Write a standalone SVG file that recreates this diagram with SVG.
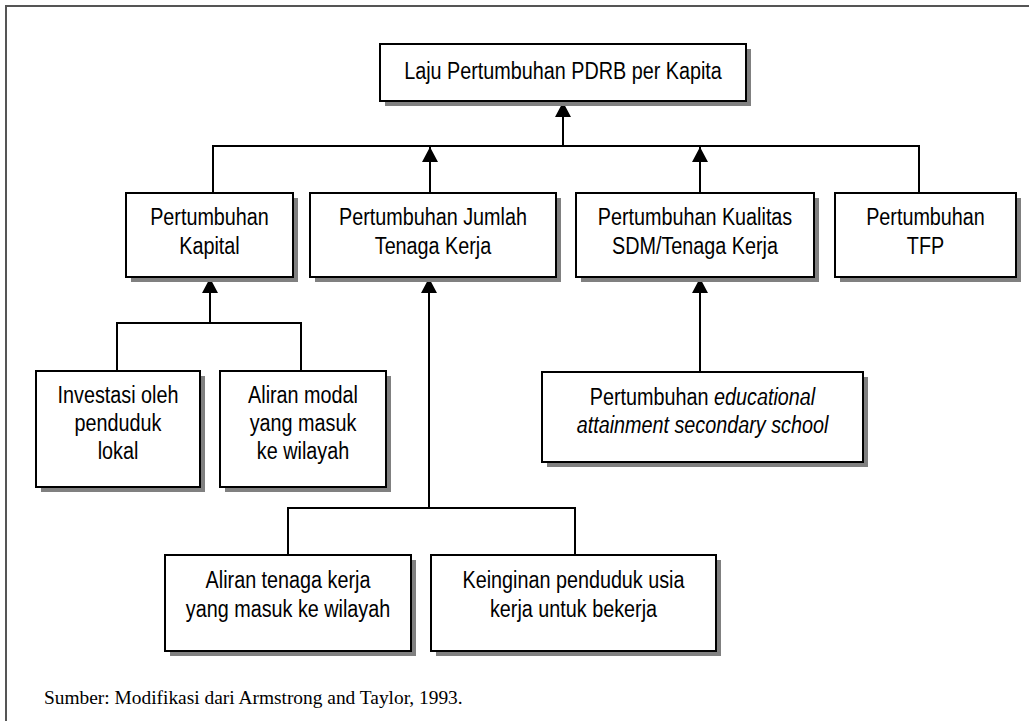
<svg xmlns="http://www.w3.org/2000/svg" width="1029" height="721" viewBox="0 0 1029 721">
<style>
.bx{fill:#fff;stroke:#000;stroke-width:2}
.sh{fill:#808080}
.ln{fill:none;stroke:#000;stroke-width:2}
.t{font-family:"Liberation Sans Narrow","Arial Narrow","Liberation Sans",sans-serif;font-size:23px;text-anchor:middle;fill:#000}
.i{font-style:italic}
.src{font-family:"Liberation Serif","Times New Roman",serif;font-size:19.4px;fill:#000}
</style>
<defs>
<marker id="ah" markerUnits="userSpaceOnUse" markerWidth="15" markerHeight="16" viewBox="0 0 15 16" refX="15" refY="8" orient="auto">
<path d="M0,0 L15,8 L0,16 z" fill="#000"/>
</marker>
</defs>
<rect width="1029" height="721" fill="#fff"/>
<path d="M6,721 V6 H1029" fill="none" stroke="#555" stroke-width="2"/>

<g id="connectors">
<line class="ln" x1="563" y1="146" x2="563" y2="102" marker-end="url(#ah)"/>
<path class="ln" d="M213,193 V146 H919 V193"/>
<line class="ln" x1="430" y1="193" x2="430" y2="147" marker-end="url(#ah)"/>
<line class="ln" x1="700" y1="193" x2="700" y2="147" marker-end="url(#ah)"/>
<line class="ln" x1="210" y1="323" x2="210" y2="278" marker-end="url(#ah)"/>
<path class="ln" d="M117,371 V323 H301 V371"/>
<line class="ln" x1="429" y1="508" x2="429" y2="278" marker-end="url(#ah)"/>
<path class="ln" d="M288,555 V508 H575 V555"/>
<line class="ln" x1="700" y1="372" x2="700" y2="278" marker-end="url(#ah)"/>
</g>

<g id="n-top">
<rect class="sh" x="385" y="49" width="366" height="57"/>
<rect class="bx" x="380" y="44" width="366" height="57"/>
<text class="t" transform="translate(563,79) scale(0.86,1)">Laju Pertumbuhan PDRB per Kapita</text>
</g>

<g id="n-kapital">
<rect class="sh" x="131" y="198" width="167" height="84"/>
<rect class="bx" x="126" y="193" width="167" height="84"/>
<text class="t" transform="translate(209.5,225) scale(0.86,1)">Pertumbuhan</text>
<text class="t" transform="translate(209.5,254) scale(0.86,1)">Kapital</text>
</g>

<g id="n-jumlah">
<rect class="sh" x="315" y="198" width="246" height="84"/>
<rect class="bx" x="310" y="193" width="246" height="84"/>
<text class="t" transform="translate(433,225) scale(0.86,1)">Pertumbuhan Jumlah</text>
<text class="t" transform="translate(433,254) scale(0.86,1)">Tenaga Kerja</text>
</g>

<g id="n-kualitas">
<rect class="sh" x="581" y="198" width="238" height="84"/>
<rect class="bx" x="576" y="193" width="238" height="84"/>
<text class="t" transform="translate(695,225) scale(0.86,1)">Pertumbuhan Kualitas</text>
<text class="t" transform="translate(695,254) scale(0.86,1)">SDM/Tenaga Kerja</text>
</g>

<g id="n-tfp">
<rect class="sh" x="840" y="198" width="181" height="84"/>
<rect class="bx" x="835" y="193" width="181" height="84"/>
<text class="t" transform="translate(925.5,225) scale(0.86,1)">Pertumbuhan</text>
<text class="t" transform="translate(925.5,254) scale(0.86,1)">TFP</text>
</g>

<g id="n-investasi">
<rect class="sh" x="41" y="376" width="164" height="116"/>
<rect class="bx" x="36" y="371" width="164" height="116"/>
<text class="t" transform="translate(118,403) scale(0.86,1)">Investasi oleh</text>
<text class="t" transform="translate(118,431) scale(0.86,1)">penduduk</text>
<text class="t" transform="translate(118,459) scale(0.86,1)">lokal</text>
</g>

<g id="n-aliran-modal">
<rect class="sh" x="225" y="376" width="166" height="116"/>
<rect class="bx" x="220" y="371" width="166" height="116"/>
<text class="t" transform="translate(303,403) scale(0.86,1)">Aliran modal</text>
<text class="t" transform="translate(303,431) scale(0.86,1)">yang masuk</text>
<text class="t" transform="translate(303,459) scale(0.86,1)">ke wilayah</text>
</g>

<g id="n-educational">
<rect class="sh" x="547" y="377" width="321" height="90"/>
<rect class="bx" x="542" y="372" width="321" height="90"/>
<text class="t" transform="translate(702.5,405) scale(0.86,1)">Pertumbuhan <tspan class="i">educational</tspan></text>
<text class="t i" transform="translate(702.5,433) scale(0.86,1)">attainment secondary school</text>
</g>

<g id="n-aliran-tenaga">
<rect class="sh" x="170" y="560" width="246" height="96"/>
<rect class="bx" x="165" y="555" width="246" height="96"/>
<text class="t" transform="translate(288,588) scale(0.86,1)">Aliran tenaga kerja</text>
<text class="t" transform="translate(288,617) scale(0.86,1)">yang masuk ke wilayah</text>
</g>

<g id="n-keinginan">
<rect class="sh" x="436" y="560" width="285" height="96"/>
<rect class="bx" x="431" y="555" width="285" height="96"/>
<text class="t" transform="translate(573.5,588) scale(0.86,1)">Keinginan penduduk usia</text>
<text class="t" transform="translate(573.5,617) scale(0.86,1)">kerja untuk bekerja</text>
</g>

<text class="src" x="44" y="704">Sumber: Modifikasi dari Armstrong and Taylor, 1993.</text>
</svg>
